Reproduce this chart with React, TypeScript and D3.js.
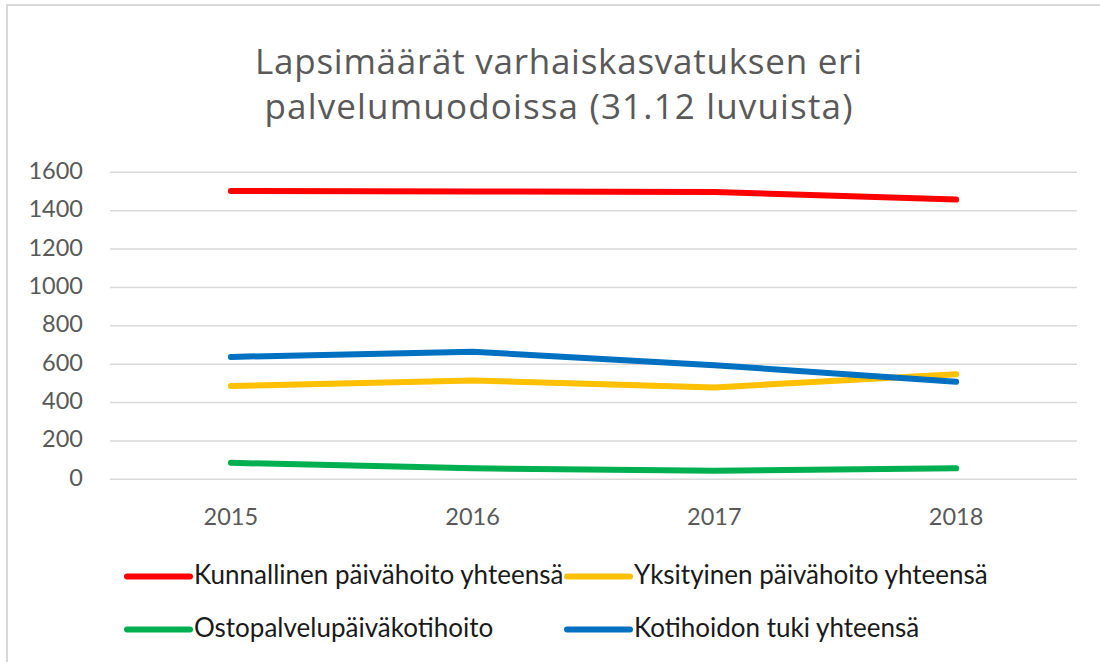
import React from "react";
import * as d3 from "d3";

const years = ["2015", "2016", "2017", "2018"];
const kunnallinen = [1503, 1500, 1497, 1458];
const yksityinen = [486, 515, 479, 547];
const ostopalvelu = [86, 57, 45, 57];
const kotihoito = [638, 665, 595, 508];
const yTicks = [0, 200, 400, 600, 800, 1000, 1200, 1400, 1600];
const titleLines = ["Lapsimäärät varhaiskasvatuksen eri", "palvelumuodoissa (31.12 luvuista)"];

const seriesNames = [
  "Kunnallinen päivähoito yhteensä",
  "Yksityinen päivähoito yhteensä",
  "Ostopalvelupäiväkotihoito",
  "Kotihoidon tuki yhteensä",
];
const seriesColors = ["#FF0000", "#FFC000", "#00B050", "#0070C0"];
const seriesValues = [kunnallinen, yksityinen, ostopalvelu, kotihoito];

const W = 1100;
const H = 662;
const FONT = "Lato, 'Open Sans', sans-serif";
const TITLE_FONT = "'Open Sans', Lato, sans-serif";

export default function App() {
  const x = d3.scaleBand<string>().domain(years).range([110, 1077]);
  const y = d3.scaleLinear().domain([0, 1600]).range([479.3, 172.3]);
  const line = d3
    .line<number>()
    .x((_, i) => (x(years[i]) as number) + x.bandwidth() / 2)
    .y((d) => y(d));

  const legendPos = [
    { x: 127, y: 576.5 },
    { x: 567, y: 576.5 },
    { x: 127, y: 629.5 },
    { x: 567, y: 629.5 },
  ];
  const titleWidths = [607, 588];

  return (
    <svg
      width={W}
      height={H}
      style={{ position: "absolute", left: 0, top: 0, background: "#fff" }}
    >
      <rect x={0} y={0} width={W} height={H} fill="#fff" />
      <rect x={7} y={5} width={W + 20} height={H + 20} fill="none" stroke="#d9d9d9" strokeWidth={2} />
      {titleLines.map((t, i) => (
        <text
          key={t}
          x={558.5}
          y={74 + i * 45}
          textAnchor="middle"
          fontFamily={TITLE_FONT}
          fontSize={35}
          fill="#595959"
          textLength={titleWidths[i]}
          lengthAdjust="spacing"
        >
          {t}
        </text>
      ))}
      {yTicks.map((t) => (
        <g key={t}>
          <line x1={110} x2={1077} y1={y(t)} y2={y(t)} stroke="#d9d9d9" strokeWidth={1.5} />
          <text
            x={83}
            y={y(t) + 6.5}
            textAnchor="end"
            fontFamily={FONT}
            fontSize={23.5}
            fill="#595959"
          >
            {t}
          </text>
        </g>
      ))}
      {years.map((yr) => (
        <text
          key={yr}
          x={(x(yr) as number) + x.bandwidth() / 2}
          y={524.5}
          textAnchor="middle"
          fontFamily={FONT}
          fontSize={23.5}
          fill="#595959"
        >
          {yr}
        </text>
      ))}
      {seriesValues.map((vals, i) => (
        <path
          key={seriesNames[i]}
          d={line(vals) as string}
          fill="none"
          stroke={seriesColors[i]}
          strokeWidth={6}
          strokeLinecap="round"
          strokeLinejoin="round"
        />
      ))}
      {seriesNames.map((n, i) => (
        <g key={n}>
          <line
            x1={legendPos[i].x}
            x2={legendPos[i].x + 63}
            y1={legendPos[i].y}
            y2={legendPos[i].y}
            stroke={seriesColors[i]}
            strokeWidth={6}
            strokeLinecap="round"
          />
          <text
            x={legendPos[i].x + 67}
            y={legendPos[i].y + 7.5}
            fontFamily={FONT}
            fontSize={26}
            fill="#1a1a1a"
          >
            {n}
          </text>
        </g>
      ))}
    </svg>
  );
}
